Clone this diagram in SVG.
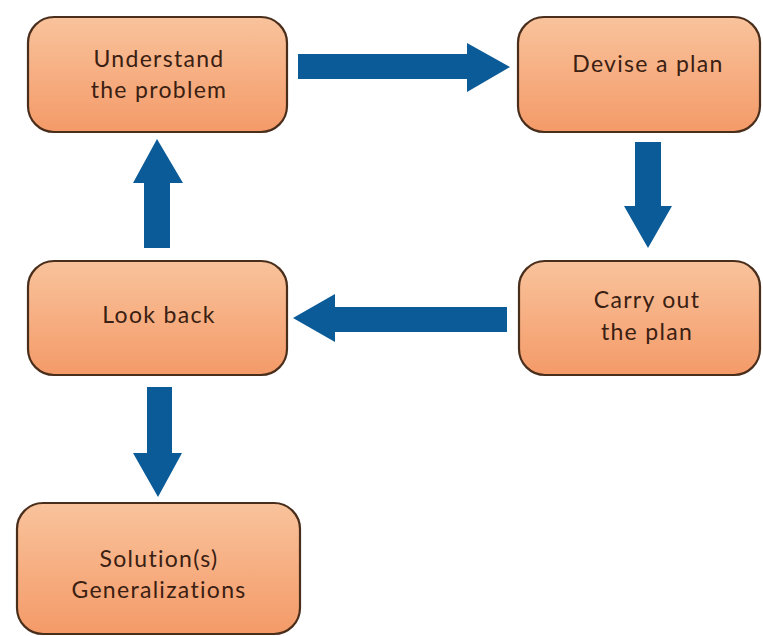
<svg xmlns="http://www.w3.org/2000/svg" width="763" height="636" viewBox="0 0 763 636">
  <defs>
    <linearGradient id="peach" x1="0" y1="0" x2="0" y2="1">
      <stop offset="0" stop-color="#f9c39c"/>
      <stop offset="1" stop-color="#f49a68"/>
    </linearGradient>
  </defs>
  <style>
    .box { fill: url(#peach); stroke: #4a2e1c; stroke-width: 2.2; }
    .lbl { font-family: "Lato", "Open Sans", "Liberation Sans", sans-serif; font-size: 23px; letter-spacing: 1.3px; fill: #3a2012; text-anchor: middle; }
    .arr { fill: #0a5b98; }
  </style>
  <rect width="763" height="636" fill="#ffffff"/>
  <g id="connectors">
    <polygon class="arr" points="298,54 467,54 467,43 510,67 467,92 467,79 298,79"/>
    <polygon class="arr" points="635,142 661,142 661,206 672,206 648,248 624,206 635,206"/>
    <polygon class="arr" points="507,307 335,307 335,294 293,318 335,342 335,332 507,332"/>
    <polygon class="arr" points="144,248 144,183 133,183 157,139 183,183 170,183 170,248"/>
    <polygon class="arr" points="147,387 172,387 172,453 182,453 158,497 133,453 147,453"/>
  </g>
  <g id="understand">
    <rect class="box" x="28" y="17" width="259" height="115" rx="26"/>
    <text class="lbl" x="159" y="67">Understand</text>
    <text class="lbl" x="159" y="98">the problem</text>
  </g>
  <g id="devise">
    <rect class="box" x="518" y="17" width="242" height="115" rx="26"/>
    <text class="lbl" x="648" y="72">Devise a plan</text>
  </g>
  <g id="carry">
    <rect class="box" x="519" y="261" width="241" height="114" rx="26"/>
    <text class="lbl" x="647" y="308">Carry out</text>
    <text class="lbl" x="647" y="340">the plan</text>
  </g>
  <g id="lookback">
    <rect class="box" x="28" y="261" width="259" height="114" rx="26"/>
    <text class="lbl" x="159" y="323">Look back</text>
  </g>
  <g id="solution">
    <rect class="box" x="17" y="503" width="283" height="131" rx="26"/>
    <text class="lbl" x="159" y="567">Solution(s)</text>
    <text class="lbl" x="159" y="598">Generalizations</text>
  </g>
</svg>
